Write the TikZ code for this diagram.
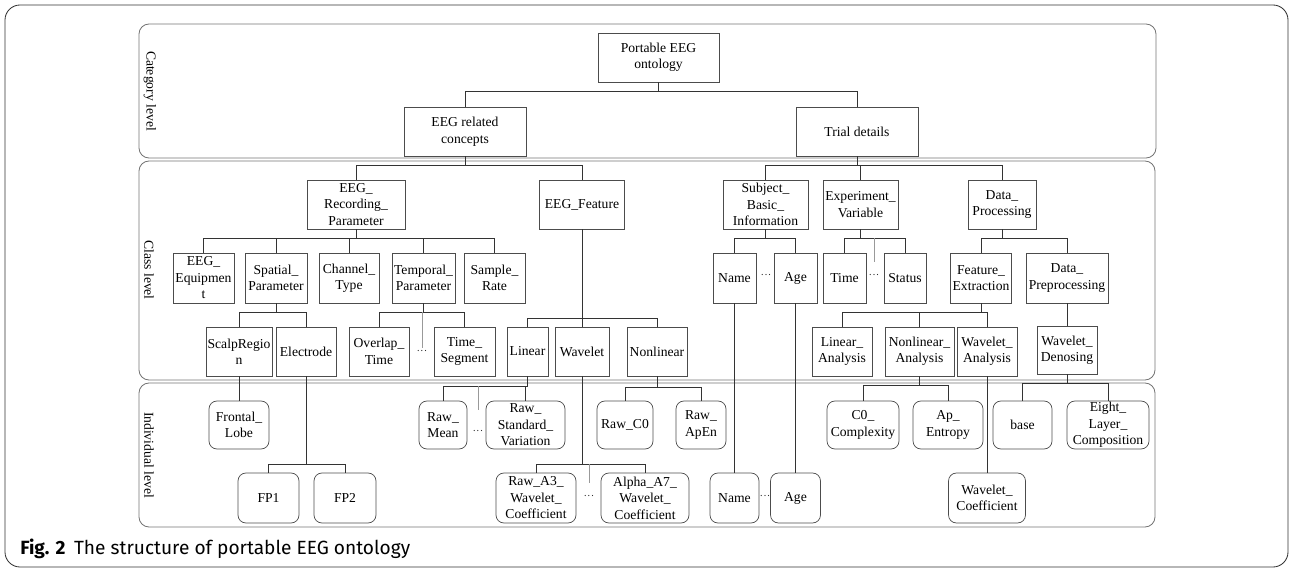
\documentclass[tikz,border=0pt]{standalone}
\usepackage{fontspec}
\setmainfont{Liberation Serif}
\newfontfamily\captionfont{Fira Sans}
\usepackage{tikz}
\usetikzlibrary{shapes.geometric}

\newdimen\pxu \pxu=0.025cm
\newcommand{\boxfont}{\fontsize{9.7}{11.7}\selectfont}
\newcommand{\mdots}{\textperiodcentered\textperiodcentered\textperiodcentered}

\tikzstyle{outerframe} = [draw=black!80, line width=0.6pt, rounded corners=15\pxu]
\tikzstyle{levelframe} = [draw=black!55, line width=0.6pt, rounded corners=10\pxu]
\tikzstyle{levellabel} = [rotate=-90, font=\boxfont, inner sep=0pt]
\tikzstyle{box} = [rectangle, draw=black!70, line width=0.5pt, inner sep=0pt, align=center, text centered, font=\boxfont]
\tikzstyle{indiv} = [box, rounded corners=8\pxu]
\tikzstyle{line} = [draw=black!80, line width=0.5pt]
\tikzstyle{dotline} = [draw=black!40, line width=0.4pt]
\tikzstyle{dots} = [inner sep=0pt, text=black!85, font=\fontsize{7.5}{8}\selectfont]
\tikzset{wh/.style 2 args={minimum width=#1\pxu, minimum height=#2\pxu}}

\begin{document}
\begin{tikzpicture}[x=0.025cm, y=-0.025cm]

        \useasboundingbox (0,0) rectangle (1290,570);

        % Frames
        \draw [outerframe] (5,5) rectangle (1288,567);
        \draw [levelframe] (139,24) rectangle (1156,158);
        \draw [levelframe] (139,161) rectangle (1155,380);
        \draw [levelframe] (139,383) rectangle (1155,527);
        \node (catlabel) [levellabel] at (150,91) {Category level};
        \node (classlabel) [levellabel] at (149,270) {Class level};
        \node (indlabel) [levellabel] at (149,455) {Individual level};

        % Category level
        \node (portable) [box, wh={121}{49}] at (658.5,57.5) {Portable EEG\\ontology};
        \node (eegrel) [box, wh={122}{49}] at (465,131.5) {EEG related\\concepts};
        \node (trial) [box, wh={122}{49}] at (857,131.5) {Trial details};

        % Class level
        \node (recpar) [box, wh={98}{49}] at (356,204.5) {EEG\_\\Recording\_\\Parameter};
        \node (feature) [box, wh={85}{49}] at (582,204.5) {EEG\_Feature};
        \node (subject) [box, wh={85}{49}] at (765.5,204.5) {Subject\_\\Basic\_\\Information};
        \node (expvar) [box, wh={75}{49}] at (860.5,204.5) {Experiment\_\\Variable};
        \node (dataproc) [box, wh={68}{49}] at (1002,204.5) {Data\_\\Processing};

        \node (equip) [box, wh={61}{50}] at (203.5,278) {EEG\_\\Equipmen\\t};
        \node (spatial) [box, wh={62}{50}] at (276,278) {Spatial\_\\Parameter};
        \node (channel) [box, wh={60}{50}] at (349,278) {Channel\_\\Type};
        \node (temporal) [box, wh={63}{50}] at (423.5,278) {Temporal\_\\Parameter};
        \node (sample) [box, wh={61}{50}] at (494.5,278) {Sample\_\\Rate};
        \node (name) [box, wh={43}{50}] at (734.5,278) {Name};
        \node (namedots) [dots] at (766,276) {\mdots};
        \node (age) [box, wh={43}{50}] at (795.5,278) {Age};
        \node (time) [box, wh={43}{50}] at (844.5,278) {Time};
        \node (timedots) [dots] at (874,276) {\mdots};
        \node (status) [box, wh={42}{50}] at (905,278) {Status};
        \node (featext) [box, wh={61}{50}] at (981,278) {Feature\_\\Extraction};
        \node (dataprep) [box, wh={82}{50}] at (1067,278) {Data\_\\Preprocessing};

        \node (scalp) [box, wh={66}{49}] at (239,351.5) {ScalpRegio\\n};
        \node (electrode) [box, wh={60}{49}] at (306,351.5) {Electrode};
        \node (overlap) [box, wh={60}{49}] at (379,351.5) {Overlap\_\\Time};
        \node (ovdots) [dots] at (422,352) {\mdots};
        \node (tseg) [box, wh={61}{49}] at (464.5,351.5) {Time\_\\Segment};
        \node (linear) [box, wh={41}{49}] at (527.5,351.5) {Linear};
        \node (wavelet) [box, wh={54}{49}] at (582,351.5) {Wavelet};
        \node (nonlinear) [box, wh={60}{49}] at (657,351.5) {Nonlinear};
        \node (linana) [box, wh={60}{49}] at (842,351.5) {Linear\_\\Analysis};
        \node (nonana) [box, wh={69}{49}] at (919.5,351.5) {Nonlinear\_\\Analysis};
        \node (wavana) [box, wh={60}{49}] at (987,351.5) {Wavelet\_\\Analysis};
        \node (wavden) [box, wh={60}{48}] at (1067,350) {Wavelet\_\\Denosing};

        % Individual level
        \node (frontal) [indiv, wh={60}{48}] at (239,425) {Frontal\_\\Lobe};
        \node (rawmean) [indiv, wh={48}{48}] at (443,425) {Raw\_\\Mean};
        \node (meandots) [dots] at (478,432) {\mdots};
        \node (rawstd) [indiv, wh={79}{48}] at (525.5,425) {Raw\_\\Standard\_\\Variation};
        \node (rawcz) [indiv, wh={56}{48}] at (625,425) {Raw\_C0};
        \node (rawapen) [indiv, wh={50}{48}] at (701,425) {Raw\_\\ApEn};
        \node (czcomp) [indiv, wh={72}{48}] at (863,425) {C0\_\\Complexity};
        \node (apent) [indiv, wh={70}{48}] at (948,425) {Ap\_\\Entropy};
        \node (base) [indiv, wh={59}{48}] at (1022.5,425) {base};
        \node (eight) [indiv, wh={82}{48}] at (1108,425) {Eight\_\\Layer\_\\Composition};

        \node (fpone) [indiv, wh={61}{50}] at (268.5,498) {FP1};
        \node (fptwo) [indiv, wh={62}{50}] at (345,498) {FP2};
        \node (rawathree) [indiv, wh={80}{50}] at (536,498) {Raw\_A3\_\\Wavelet\_\\Coefficient};
        \node (athreedots) [dots] at (589,497) {\mdots};
        \node (alphaseven) [indiv, wh={88}{50}] at (645,498) {Alpha\_A7\_\\Wavelet\_\\Coefficient};
        \node (namei) [indiv, wh={49}{50}] at (734.5,498) {Name};
        \node (nameidots) [dots] at (765,497) {\mdots};
        \node (agei) [indiv, wh={50}{50}] at (795.5,498) {Age};
        \node (wavcoef) [indiv, wh={77}{50}] at (987,498) {Wavelet\_\\Coefficient};

        % Caption
        \node (caption) [anchor=base west, inner sep=0pt, font=\captionfont\fontsize{13.6}{16}\selectfont] at (20,554) {\textbf{Fig. 2}\hspace{0.45em}The structure of portable EEG ontology};

        % Connectors
        \draw [line] (portable.south) -- ++(0,9) -| (eegrel.north);
        \draw [line] (portable.south) -- ++(0,9) -| (trial.north);
        \draw [line] (eegrel.south) -- ++(0,9) -| (recpar.north);
        \draw [line] (eegrel.south) -- ++(0,9) -| (feature.north);
        \draw [line] (trial.south) -- ++(0,9) -| (subject.north);
        \draw [line] (trial.south) -- ++(0,9) -| (expvar.north);
        \draw [line] (trial.south) -- ++(0,9) -| (dataproc.north);
        \foreach \kid in {equip, spatial, channel, temporal, sample}
            \draw [line] (recpar.south) -- ++(0,9) -| (\kid.north);
        \draw [line] (subject.south) -- ++(0,9) -| (name.north);
        \draw [line] (subject.south) -- ++(0,9) -| (age.north);
        \draw [line] (expvar.south) -- ++(0,9) -| (time.north);
        \draw [line] (expvar.south) -- ++(0,9) -| (status.north);
        \draw [line] (dataproc.south) -- ++(0,9) -| (featext.north);
        \draw [line] (dataproc.south) -- ++(0,9) -| (dataprep.north);
        \draw [line] (spatial.south) -- ++(0,9) -| (scalp.north);
        \draw [line] (spatial.south) -- ++(0,9) -| (electrode.north);
        \draw [line] (temporal.south) -- ++(0,9) -| (overlap.north);
        \draw [line] (temporal.south) -- ++(0,9) -| (tseg.north);
        \draw [line] (feature.south) -- ++(0,89) -| (linear.north);
        \draw [line] (feature.south) -- (wavelet.north);
        \draw [line] (feature.south) -- ++(0,89) -| (nonlinear.north);
        \draw [line] (featext.south) -- ++(0,9) -| (linana.north);
        \draw [line] (featext.south) -- ++(0,9) -| (nonana.north);
        \draw [line] (featext.south) -- ++(0,9) -| (wavana.north);
        \draw [line] (dataprep.south) -- (wavden.north);
        \draw [line] (scalp.south) -- (frontal.north);
        \draw [line] (electrode.south) -- ++(0,88) -| (fpone.north);
        \draw [line] (electrode.south) -- ++(0,88) -| (fptwo.north);
        \draw [line] (linear.south) -- ++(0,10) -| (rawmean.north);
        \draw [line] (linear.south) -- ++(0,10) -| (rawstd.north);
        \draw [line] (wavelet.south) -- ++(0,88) -| (rawathree.north);
        \draw [line] (wavelet.south) -- ++(0,88) -| (alphaseven.north);
        \draw [line] (nonlinear.south) -- ++(0,11) -| (rawcz.north);
        \draw [line] (nonlinear.south) -- ++(0,11) -| (rawapen.north);
        \draw [line] (name.south) -- (namei.north);
        \draw [line] (age.south) -- (agei.north);
        \draw [line] (nonana.south) -- ++(0,9) -| (czcomp.north);
        \draw [line] (nonana.south) -- ++(0,9) -| (apent.north);
        \draw [line] (wavana.south) -- (wavcoef.north);
        \draw [line] (wavden.south) -- ++(0,9) -| (base.north);
        \draw [line] (wavden.south) -- ++(0,9) -| (eight.north);

        % Lines down towards the dots
        \draw [dotline] (timedots |- expvar.south) ++(0,9) -- ++(0,24);
        \draw [dotline] (ovdots |- temporal.south) ++(0,9) -- ++(0,36);
        \draw [dotline] (meandots |- linear.south) ++(0,10) -- ++(0,24);
        \draw [dotline] (athreedots |- wavelet.south) ++(0,88) -- ++(0,19);
    \end{tikzpicture}
\end{document}
